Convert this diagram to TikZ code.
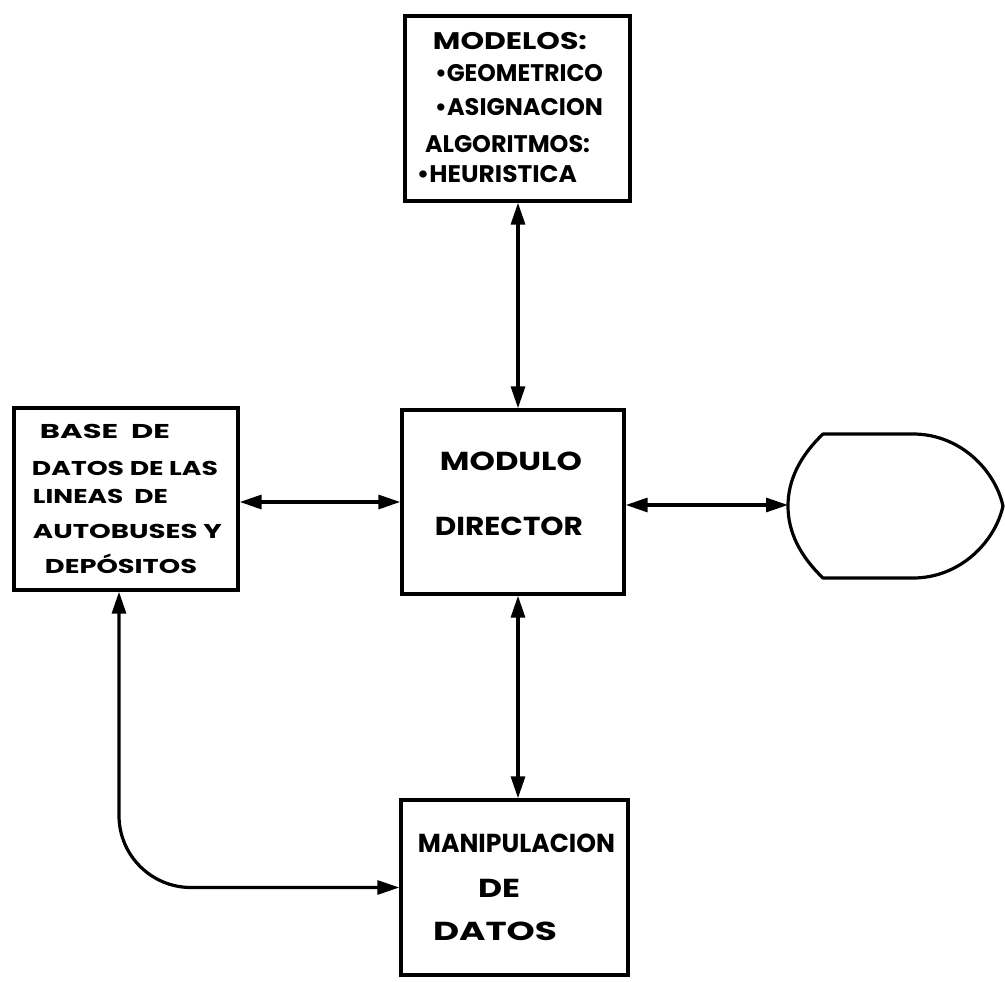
\documentclass[tikz,border=0pt]{standalone}
\usepackage{fontspec}
\setmainfont{Poppins}
\usepackage{graphicx}
\usetikzlibrary{arrows.meta}

% stretch a line of lettering to a given width, keeping its height
\newcommand\lettering[2]{\resizebox{#1pt}{\height}{#2}}

\begin{document}
\begin{tikzpicture}[x=1pt,y=-1pt,
  block/.style={draw=black,line width=3.4pt,rectangle,inner sep=0pt,fill=none},
  tip/.tip={Triangle[length=22pt,width=14pt]},
  flow/.style={line width=3.2pt,tip-tip},
  txt/.style={anchor=base,inner sep=0pt,text=black},
  big/.style={txt,font=\fontsize{26}{26}\selectfont\bfseries},
  mid/.style={txt,font=\fontsize{24}{24}\selectfont\bfseries},
  small/.style={txt,font=\fontsize{20}{20}\selectfont\bfseries}]

\useasboundingbox[fill=white] (0,0) rectangle (1005,982);

% boxes
\node[block,minimum width=225pt,minimum height=185pt] (top) at (517.5,108.5) {};
\node[block,minimum width=224pt,minimum height=182pt] (left) at (126,499) {};
\node[block,minimum width=222pt,minimum height=184pt] (dir) at (513,502) {};
\node[block,minimum width=227pt,minimum height=175pt] (bot) at (514.5,887.5) {};

% terminal shape on the right
\draw[line width=3.2pt,line join=round]
  (823,434) -- (913,434)
  .. controls (960,434) and (995,470) .. (1003,506)
  .. controls (995,542) and (960,578) .. (913,578)
  -- (823,578)
  .. controls (800,556) and (788,532) .. (788,506)
  .. controls (788,480) and (800,456) .. (823,434) -- cycle;
\coordinate (term) at (788,505);

% helper coordinates for connector lines
\coordinate (ax) at (518,0);
\coordinate (lx) at (119,0);
\coordinate (hy) at (0,502);

% connectors
\draw[flow] (top.south -| ax) -- (dir.north -| ax);
\draw[flow] (dir.south -| ax) -- (bot.north -| ax);
\draw[flow] (left.east |- hy) -- (dir.west |- hy);
\draw[flow] (dir.east |- term) -- (term);
\draw[flow,rounded corners=72pt] (left.south -| lx) |- (bot.west);

% lettering: models and algorithms
\node[mid] (t1) at (510,50) {\lettering{154}{MODELOS:}};
\node[mid] (t2) at (519,82) {\lettering{168}{•GEOMETRICO}};
\node[mid] (t3) at (519,115) {\lettering{168}{•ASIGNACION}};
\node[mid] (t4) at (507.5,153) {\lettering{165}{ALGORITMOS:}};
\node[mid] (t5) at (497,182) {\lettering{160}{•HEURISTICA}};

% lettering: bus line database
\node[small] (l1) at (105,438) {\lettering{130}{BASE\ \ DE}};
\node[small] (l2) at (125,475) {\lettering{186}{DATOS DE LAS}};
\node[small] (l3) at (100.5,503) {\lettering{135}{LINEAS\ \ DE}};
\node[small] (l4) at (127.5,538) {\lettering{189}{AUTOBUSES Y}};
\node[small] (l5) at (121,573) {\lettering{152}{DEPÓSITOS}};

% lettering: director module
\node[big] (d1) at (511,470) {\lettering{142}{MODULO}};
\node[big] (d2) at (509,535) {\lettering{148}{DIRECTOR}};

% lettering: data handling
\node[big] (m1) at (516.5,852) {\lettering{197}{MANIPULACION}};
\node[big] (m2) at (499,897) {\lettering{42}{DE}};
\node[big] (m3) at (495,940) {\lettering{124}{DATOS}};

\end{tikzpicture}
\end{document}
